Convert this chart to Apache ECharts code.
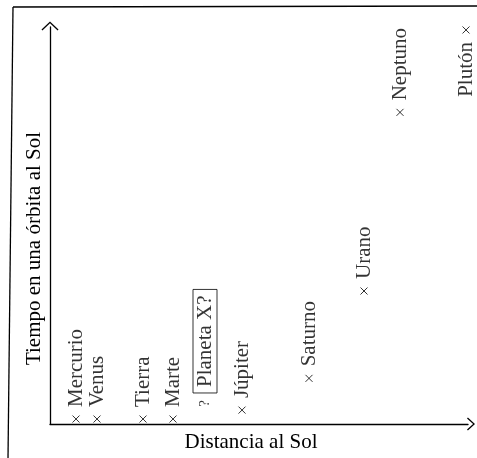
<!DOCTYPE html>
<html>
<head>
<meta charset="utf-8">
<script src="https://cdn.jsdelivr.net/npm/echarts@6.0.0/dist/echarts.min.js"></script>
<style>
  html, body { margin: 0; padding: 0; background: #fff; }
  #chart { width: 477px; height: 458px; }
</style>
</head>
<body>
<div id="chart"></div>
<script>
// Planets of the solar system: distance to the Sun vs. time of one orbit (schematic units)
const planets  = ['Mercurio', 'Venus', 'Tierra', 'Marte', 'Planeta X?', 'Júpiter', 'Saturno', 'Urano', 'Neptuno', 'Plutón'];
const distance = [2.6, 4.7, 9.3, 12.3, 15.5, 19.2, 25.9, 31.4, 35.0, 41.6];
const period   = [0.5, 0.5, 0.5, 0.5, 1.7, 1.4, 4.6, 13.4, 31.4, 39.7];

const xName = 'Distancia al Sol';
const yName = 'Tiempo en una órbita al Sol';
const unknownName = 'Planeta X?';

const INK = '#000';
const FONT = '"Liberation Serif", "DejaVu Serif", serif';
const FS = 21;

// small "x" cross drawn as a stroked path
const crossSymbol = 'path://M0,0L10,10M10,0L0,10';
// open chevrons used as axis arrow heads (they point up before rotation)
const chevronY = 'path://M8.5,0L17,8.1L16.1,9L8.5,1.8L0.9,9L0,8.1Z';
const chevronX = 'path://M6.5,0L13,7.1L12.1,8L6.5,1.9L0.9,8L0,7.1Z';

const points = planets.map((name, i) => {
  const item = { name: name, value: [distance[i], period[i]] };
  if (name === unknownName) {
    // unknown planet: a question mark instead of a cross, name in a box
    item.symbol = 'circle';
    item.symbolSize = 1;
    item.itemStyle = { color: 'rgba(0,0,0,0)', borderWidth: 0 };
    item.label = {
      position: 'top',
      distance: 0,
      formatter: '{q|?}{gap|}{box|' + name + '}',
      rich: {
        q: { fontFamily: FONT, fontSize: 15, color: INK },
        gap: { width: 7 },
        box: {
          fontFamily: FONT, fontSize: FS, color: INK,
          borderColor: INK, borderWidth: 1, padding: [2, 6, 1, 6]
        }
      }
    };
  } else if (period[i] > 38) {
    // last point sits against the top: write its name underneath
    item.label = { position: 'bottom', align: 'right' };
  }
  return item;
});

const chart = echarts.init(document.getElementById('chart'), null, { renderer: 'canvas' });

const nameStyle = { fontFamily: FONT, fontSize: FS, color: INK };

chart.setOption({
  backgroundColor: '#fff',
  animation: false,
  grid: { left: 50, right: 9, top: 27, bottom: 31, containLabel: false },
  xAxis: {
    type: 'value', min: 0, max: 41.8,
    axisTick: { show: false }, axisLabel: { show: false }, splitLine: { show: false },
    name: xName, nameLocation: 'middle', nameGap: 8,
    nameTextStyle: Object.assign({}, nameStyle, { padding: [0, 16, 0, 0] }),
    axisLine: { show: true, lineStyle: { color: INK, width: 1.3 },
      symbol: ['none', chevronX], symbolSize: [13, 8], symbolOffset: [0, 3] }
  },
  yAxis: {
    type: 'value', min: 0, max: 40,
    axisTick: { show: false }, axisLabel: { show: false }, splitLine: { show: false },
    name: yName, nameLocation: 'middle', nameGap: 5,
    nameTextStyle: Object.assign({}, nameStyle, { padding: [0, 46, 0, 0] }),
    axisLine: { show: true, lineStyle: { color: INK, width: 1.3 },
      symbol: ['none', chevronY], symbolSize: [17, 9], symbolOffset: [0, 1] }
  },
  graphic: [
    // page frame: left rule and top rule
    { type: 'line', shape: { x1: 13, y1: 7, x2: 8, y2: 458 }, style: { stroke: INK, lineWidth: 1.3 } },
    { type: 'line', shape: { x1: 13, y1: 7, x2: 477, y2: 6 }, style: { stroke: INK, lineWidth: 1.3 } }
  ],
  series: [{
    type: 'scatter',
    data: points,
    symbol: crossSymbol,
    symbolSize: 7,
    itemStyle: { color: 'rgba(0,0,0,0)', borderColor: INK, borderWidth: 1 },
    label: {
      show: true,
      position: 'top',
      distance: 8,
      rotate: 90,
      align: 'left',
      verticalAlign: 'middle',
      formatter: p => p.name,
      fontFamily: FONT,
      fontSize: FS,
      color: INK
    },
    labelLayout: { hideOverlap: false }
  }]
});
</script>
</body>
</html>
